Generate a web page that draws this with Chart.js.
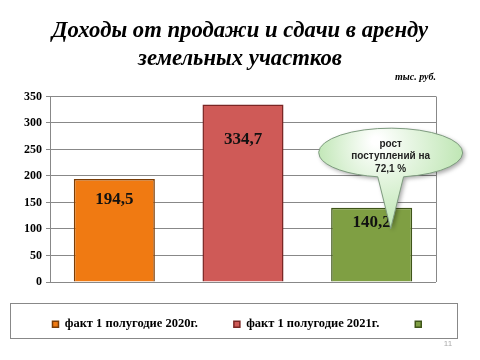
<!DOCTYPE html>
<html>
<head>
<meta charset="utf-8">
<script src="https://cdn.jsdelivr.net/npm/chart.js@4.4.1/dist/chart.umd.min.js"></script>
<style>
  html, body { margin: 0; padding: 0; background: #fff; }
  #wrap { width: 480px; height: 360px; }
</style>
</head>
<body>
<div id="wrap"><canvas id="chart" width="480" height="360"></canvas></div>
<script>
// данные диаграммы
const categories = ['2020', '2021', 'рост'];
const seriesNames = ['факт 1 полугодие 2020г.', 'факт 1 полугодие 2021г.', ''];
const seriesValues = [194.5, 334.7, 140.2];
const seriesColors = ['#F07A12', '#CF5A57', '#7F9F43'];
const seriesBorders = ['#7a3c05', '#7a2624', '#3f5519'];
const yTicks = [0, 50, 100, 150, 200, 250, 300, 350];
const titleLines = ['Доходы от продажи и сдачи в аренду', 'земельных участков'];
const unitText = 'тыс. руб.';
const calloutLines = ['рост', 'поступлений на', '72,1 %'];
const pageNumber = '11';

// один столбец на категорию: остальные значения пустые
const datasets = seriesNames.map((name, i) => ({
    label: name,
    data: categories.map((c, j) => (j === i ? seriesValues[i] : null)),
    backgroundColor: seriesColors[i],
    borderColor: seriesBorders[i],
    borderWidth: 1.5,
    grouped: false,
    categoryPercentage: 1,
    barPercentage: 0.63
}));

// подписи, выноска, рамка легенды
const decorPlugin = {
    id: 'decor',
    beforeDraw(chart) {
        const ctx = chart.ctx;
        ctx.save();
        ctx.fillStyle = '#fff';
        ctx.fillRect(0, 0, chart.width, chart.height);
        ctx.restore();
    },
    afterDatasetsDraw(chart) {
        const ctx = chart.ctx;
        const area = chart.chartArea;
        const y = chart.scales.y;

        // правая граница области построения
        ctx.save();
        ctx.strokeStyle = '#888';
        ctx.lineWidth = 1;
        ctx.beginPath();
        const rx = Math.round(area.right) + 0.5;
        ctx.moveTo(rx, area.top);
        ctx.lineTo(rx, area.bottom);
        ctx.stroke();

        // значения на столбцах
        ctx.font = 'bold 17px "Liberation Serif"';
        ctx.textAlign = 'center';
        ctx.textBaseline = 'middle';
        ctx.fillStyle = '#111';
        chart.data.datasets.forEach((ds, i) => {
            const meta = chart.getDatasetMeta(i);
            meta.data.forEach((bar, j) => {
                const v = ds.data[j];
                if (v == null) return;
                ctx.fillText(String(v).replace('.', ','), bar.x, y.getPixelForValue(v * 0.8));
            });
        });

        // выноска над третьим столбцом
        const bar = chart.getDatasetMeta(2).data[2];
        const cx = bar.x + 19, cy = bar.y - 55;
        const ex = 72, ey = 24.5;
        const tipX = bar.x + 19, tipY = bar.y + 21;
        const a = 0.18;
        const grad = ctx.createRadialGradient(cx - 15, cy - 12, 4, cx, cy, 80);
        grad.addColorStop(0, '#ffffff');
        grad.addColorStop(1, '#b9e4ad');
        ctx.beginPath();
        ctx.ellipse(cx, cy, ex, ey, 0, Math.PI / 2 - a, Math.PI / 2 + a, true);
        ctx.lineTo(tipX, tipY);
        ctx.closePath();
        ctx.shadowColor = 'rgba(0,0,0,0.35)';
        ctx.shadowBlur = 4;
        ctx.shadowOffsetX = 2;
        ctx.shadowOffsetY = 2;
        ctx.fillStyle = grad;
        ctx.fill();
        ctx.shadowColor = 'transparent';
        ctx.strokeStyle = '#7f9c80';
        ctx.lineWidth = 1;
        ctx.stroke();

        ctx.font = 'bold 10px "Liberation Sans"';
        ctx.fillStyle = '#222';
        const offs = [-8, 4, 17];
        calloutLines.forEach((t, k) => ctx.fillText(t, cx, cy + offs[k]));
        ctx.restore();
    },
    afterDraw(chart) {
        const ctx = chart.ctx;
        const area = chart.chartArea;
        const lg = chart.legend;
        ctx.save();
        // единицы измерения
        ctx.font = 'bold italic 10px "Liberation Serif"';
        ctx.fillStyle = '#000';
        ctx.textAlign = 'right';
        ctx.textBaseline = 'middle';
        ctx.fillText(unitText, area.right, 77);

        // рамка легенды
        ctx.strokeStyle = '#888';
        ctx.lineWidth = 1;
        ctx.strokeRect(10.5, Math.round(lg.top) + 21.5, 447, 35);

        // номер слайда
        ctx.font = '8px "Liberation Sans"';
        ctx.fillStyle = '#aaa';
        ctx.textAlign = 'center';
        ctx.fillText(pageNumber, 448, 344);
        ctx.restore();
    }
};

new Chart(document.getElementById('chart'), {
    type: 'bar',
    data: { labels: categories, datasets: datasets },
    options: {
        responsive: false,
        animation: false,
        devicePixelRatio: 1,
        layout: { padding: { left: 0, right: 0, top: 0, bottom: 19.5 } },
        scales: {
            x: { display: false },
            y: {
                min: 0,
                max: 350,
                afterBuildTicks: s => { s.ticks = yTicks.map(v => ({ value: v })); },
                afterFit: s => { s.width = 50; },
                ticks: {
                    color: '#000',
                    padding: 4,
                    font: { family: 'Liberation Serif', size: 12, weight: 'bold' }
                },
                grid: { color: '#888', tickLength: 4 },
                border: { color: '#888' }
            },
            // пустая ось справа — отступ области построения
            yRight: {
                position: 'right',
                display: true,
                ticks: { display: false },
                grid: { display: false, drawTicks: false },
                border: { display: false },
                afterFit: s => { s.width = 44; }
            }
        },
        plugins: {
            title: {
                display: true,
                text: titleLines,
                color: '#000',
                font: { family: 'Liberation Serif', size: 22.7, weight: 'bold', style: 'italic', lineHeight: 1.2 },
                padding: { top: 18, bottom: 24 }
            },
            legend: {
                position: 'bottom',
                labels: {
                    color: '#000',
                    boxWidth: 6,
                    boxHeight: 6,
                    padding: 36,
                    font: { family: 'Liberation Serif', size: 12.5, weight: 'bold' }
                }
            },
            tooltip: { enabled: false }
        }
    },
    plugins: [decorPlugin]
});
</script>
</body>
</html>
